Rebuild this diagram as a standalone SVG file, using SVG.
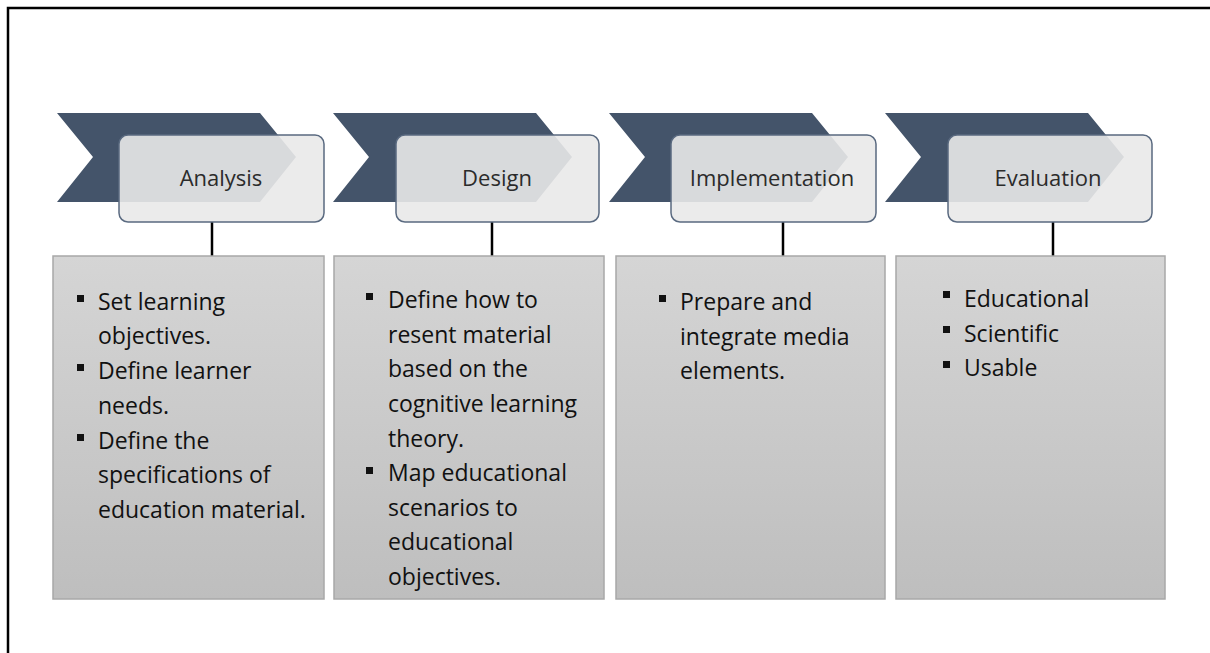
<svg xmlns="http://www.w3.org/2000/svg" width="1210" height="653" viewBox="0 0 1210 653">
<defs>
<linearGradient id="lg" x1="0" y1="0" x2="0" y2="1">
<stop offset="0" stop-color="#d5d5d5"/>
<stop offset="1" stop-color="#bebebe"/>
</linearGradient>
<style>
.chev{fill:#44546a}
.head{fill:#e9e9e9;fill-opacity:0.9;stroke:#5a6a80;stroke-width:1.5}
.ttl{font-family:"Open Sans","Liberation Sans",sans-serif;font-size:22px;fill:#2b2b2b;text-anchor:middle}
.lst{fill:url(#lg);stroke:#a8a8a8;stroke-width:1.5}
.txt{font-family:"Open Sans","Liberation Sans",sans-serif;font-size:23px;fill:#111}
.bul{fill:#111}
.con{stroke:#000;stroke-width:2.5;fill:none}
</style>
</defs>
<rect width="1210" height="653" fill="#fff"/>
<path d="M8,653 V8 H1210" fill="none" stroke="#000" stroke-width="2.5"/>

<g id="connectors">
<line class="con" x1="212" y1="222" x2="212" y2="256"/>
<line class="con" x1="492" y1="222" x2="492" y2="256"/>
<line class="con" x1="783" y1="222" x2="783" y2="256"/>
<line class="con" x1="1053" y1="222" x2="1053" y2="256"/>
</g>

<g id="analysis">
<polygon class="chev" points="57,113 260,113 296,157 260,202 57,202 93,157"/>
<rect class="head" x="119" y="135" width="205" height="87" rx="9"/>
<text class="ttl" x="221" y="186">Analysis</text>
<rect class="lst" x="53" y="256" width="271" height="343"/>
<g class="bul"><rect x="77" y="295" width="7" height="7"/><rect x="77" y="364" width="7" height="7"/><rect x="77" y="434" width="7" height="7"/></g>
<text class="txt" x="98"><tspan x="98" y="310">Set learning</tspan><tspan x="98" y="344">objectives.</tspan><tspan x="98" y="379">Define learner</tspan><tspan x="98" y="414">needs.</tspan><tspan x="98" y="449">Define the</tspan><tspan x="98" y="483">specifications of</tspan><tspan x="98" y="518">education material.</tspan></text>
</g>

<g id="design">
<polygon class="chev" points="333,113 536,113 572,157 536,202 333,202 369,157"/>
<rect class="head" x="396" y="135" width="203" height="87" rx="9"/>
<text class="ttl" x="497" y="186">Design</text>
<rect class="lst" x="334" y="256" width="270" height="343"/>
<g class="bul"><rect x="366" y="293" width="7" height="7"/><rect x="366" y="467" width="7" height="7"/></g>
<text class="txt"><tspan x="388" y="308">Define how to</tspan><tspan x="388" y="343">resent material</tspan><tspan x="388" y="377">based on the</tspan><tspan x="388" y="412">cognitive learning</tspan><tspan x="388" y="447">theory.</tspan><tspan x="388" y="481">Map educational</tspan><tspan x="388" y="516">scenarios to</tspan><tspan x="388" y="550">educational</tspan><tspan x="388" y="585">objectives.</tspan></text>
</g>

<g id="implementation">
<polygon class="chev" points="609,113 812,113 848,157 812,202 609,202 645,157"/>
<rect class="head" x="671" y="135" width="205" height="87" rx="9"/>
<text class="ttl" x="772" y="186">Implementation</text>
<rect class="lst" x="616" y="256" width="269" height="343"/>
<g class="bul"><rect x="659" y="295" width="7" height="7"/></g>
<text class="txt"><tspan x="680" y="310">Prepare and</tspan><tspan x="680" y="345">integrate media</tspan><tspan x="680" y="379">elements.</tspan></text>
</g>

<g id="evaluation">
<polygon class="chev" points="885,113 1088,113 1124,157 1088,202 885,202 921,157"/>
<rect class="head" x="948" y="135" width="204" height="87" rx="9"/>
<text class="ttl" x="1048" y="186">Evaluation</text>
<rect class="lst" x="896" y="256" width="269" height="343"/>
<g class="bul"><rect x="943" y="291" width="7" height="7"/><rect x="943" y="326" width="7" height="7"/><rect x="943" y="361" width="7" height="7"/></g>
<text class="txt"><tspan x="964" y="307">Educational</tspan><tspan x="964" y="342">Scientific</tspan><tspan x="964" y="376">Usable</tspan></text>
</g>
</svg>
